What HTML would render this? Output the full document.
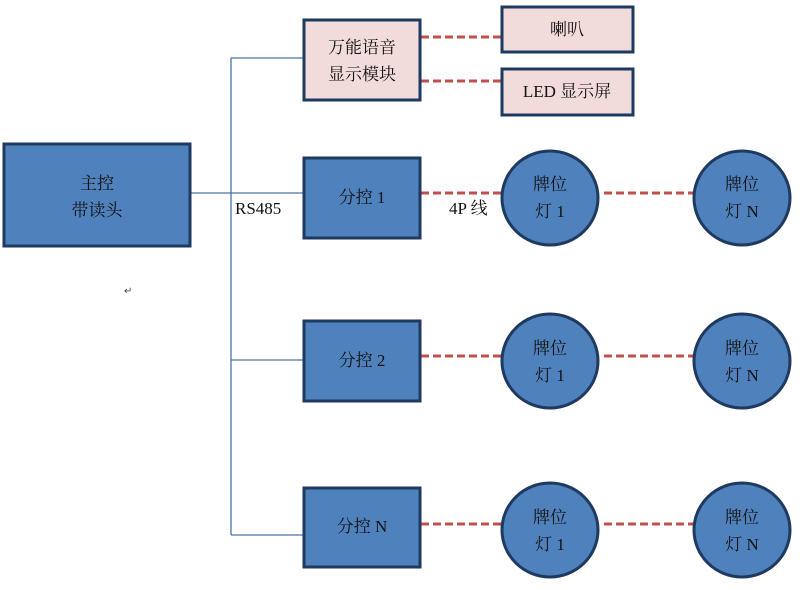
<!DOCTYPE html>
<html><head><meta charset="utf-8"><style>
body{margin:0;background:#fff;width:802px;height:585px;overflow:hidden}
svg text{font-family:"Liberation Serif","Noto Serif CJK SC",serif;font-size:17px;fill:#111}
</style></head><body>
<svg width="802" height="585" viewBox="0 0 802 585">
<g stroke="#4a72a8" stroke-width="1.3" fill="none">
<line x1="231" y1="58" x2="231" y2="535"/>
<line x1="231" y1="58" x2="303" y2="58"/>
<line x1="190" y1="193" x2="303" y2="193"/>
<line x1="231" y1="360" x2="303" y2="360"/>
<line x1="231" y1="535" x2="303" y2="535"/>
</g>
<g stroke="#c0504d" stroke-width="3" stroke-dasharray="8,4">
<line x1="421" y1="37" x2="501" y2="37"/>
<line x1="421" y1="81" x2="501" y2="81"/>
<line x1="421" y1="193" x2="502" y2="193"/>
<line x1="604" y1="193" x2="694" y2="193"/>
<line x1="421" y1="356" x2="502" y2="356"/>
<line x1="604" y1="356" x2="694" y2="356"/>
<line x1="421" y1="524" x2="502" y2="524"/>
<line x1="604" y1="524" x2="694" y2="524"/>
</g>
<g stroke="#1f3a60" stroke-width="3">
<rect x="4" y="144" width="186" height="102" fill="#4f81bd"/>
<rect x="304" y="20" width="116" height="80" fill="#f2dcdb"/>
<rect x="502" y="7" width="131" height="45" fill="#f2dcdb"/>
<rect x="502" y="69" width="131" height="46" fill="#f2dcdb"/>
<rect x="304" y="158" width="116" height="80" fill="#4f81bd"/>
<rect x="304" y="321" width="116" height="80" fill="#4f81bd"/>
<rect x="304" y="488" width="116" height="79" fill="#4f81bd"/>
<g fill="#4f81bd">
<ellipse cx="550" cy="198" rx="48" ry="47"/>
<ellipse cx="742" cy="198" rx="48" ry="47"/>
<ellipse cx="550" cy="361" rx="48" ry="47"/>
<ellipse cx="742" cy="361" rx="48" ry="47"/>
<ellipse cx="550" cy="530" rx="48" ry="47"/>
<ellipse cx="742" cy="530" rx="48" ry="47"/>
</g>
</g>
<g text-anchor="middle">
<text x="97" y="189">主控</text><text x="97" y="216">带读头</text>
<text x="362" y="53">万能语音</text><text x="362" y="80">显示模块</text>
<text x="567" y="35">喇叭</text>
<text x="567" y="97">LED 显示屏</text>
<text x="362" y="203">分控 1</text>
<text x="362" y="366">分控 2</text>
<text x="362" y="532">分控 N</text>
<text x="550" y="190">牌位</text><text x="550" y="217">灯 1</text>
<text x="742" y="190">牌位</text><text x="742" y="217">灯 N</text>
<text x="550" y="354">牌位</text><text x="550" y="381">灯 1</text>
<text x="742" y="354">牌位</text><text x="742" y="381">灯 N</text>
<text x="550" y="523">牌位</text><text x="550" y="550">灯 1</text>
<text x="742" y="523">牌位</text><text x="742" y="550">灯 N</text>
</g>
<text x="235" y="214">RS485</text>
<text x="449" y="214">4P 线</text>
<text x="124" y="294" style="font-size:10px;fill:#444">↵</text>
</svg>
</body></html>
